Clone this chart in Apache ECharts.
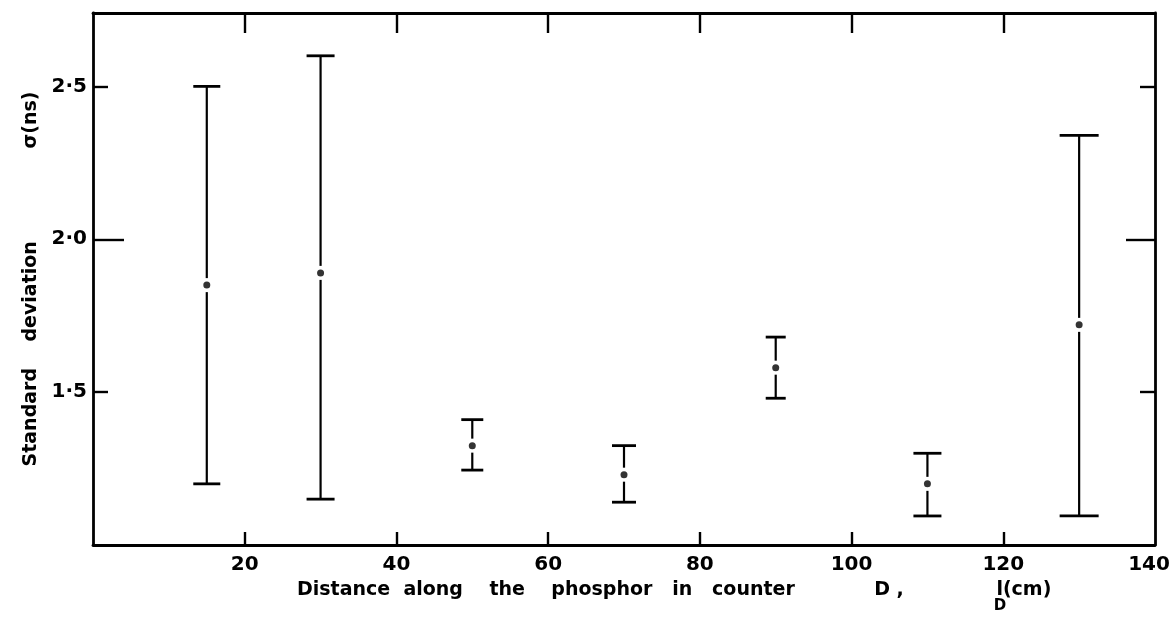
<!DOCTYPE html>
<html>
<head>
<meta charset="utf-8">
<script src="https://cdn.jsdelivr.net/npm/echarts@6/dist/echarts.min.js"></script>
<style>
  html, body { margin: 0; padding: 0; background: #fff; }
  #chart { width: 1169px; height: 620px; }
</style>
</head>
<body>
<div id="chart"></div>
<script>
// ---- data ----
const distance   = [15, 30, 50, 70, 90, 110, 130];               // l_D (cm)
const sigma      = [1.85, 1.89, 1.325, 1.23, 1.58, 1.20, 1.72];  // sigma (ns), centre dot
const sigmaLow   = [1.20, 1.15, 1.245, 1.14, 1.48, 1.095, 1.095];
const sigmaHigh  = [2.50, 2.60, 1.41, 1.325, 1.68, 1.30, 2.34];
const xTickValues  = [20, 40, 60, 80, 100, 120];
const xLabelValues = [20, 40, 60, 80, 100, 120, 140];
const yShortTicks  = [1.5, 2.5];
const yLongTicks   = [2.0];
const yLabelValues = [1.5, 2.0, 2.5];
const xTitleHead = 'Distance  along    the    phosphor   in   counter            D ,              ';
const xTitleTail = 'l(cm)';
const xTitleSub  = 'D';
const yTitle = 'Standard    deviation              σ(ns)';

// ---- styles ----
const capWidth = [27, 28, 22, 24, 20, 28, 39];
const FONT = 'DejaVu Sans';
const ink = '#000';

const errData = distance.map((d, i) => [d, sigmaLow[i], sigmaHigh[i], sigma[i]]);
const dotData = distance.map((d, i) => [d, sigma[i]]);

function renderErr(params, api) {
  const x = api.value(0), lo = api.value(1), hi = api.value(2), mid = api.value(3);
  const pHi = api.coord([x, hi]);
  const pLo = api.coord([x, lo]);
  const pMid = api.coord([x, mid]);
  const half = capWidth[params.dataIndex] / 2;
  const gap = 7;
  const ls = { stroke: ink, lineWidth: 2.2 };
  const children = [];
  if (pMid[1] - gap > pHi[1]) children.push({ type: 'line', shape: { x1: pHi[0], y1: pHi[1], x2: pMid[0], y2: pMid[1] - gap }, style: ls });
  if (pMid[1] + gap < pLo[1]) children.push({ type: 'line', shape: { x1: pMid[0], y1: pMid[1] + gap, x2: pLo[0], y2: pLo[1] }, style: ls });
  children.push({ type: 'line', shape: { x1: pHi[0] - half, y1: pHi[1], x2: pHi[0] + half, y2: pHi[1] }, style: { stroke: ink, lineWidth: 2.8 } });
  children.push({ type: 'line', shape: { x1: pLo[0] - half, y1: pLo[1], x2: pLo[0] + half, y2: pLo[1] }, style: { stroke: ink, lineWidth: 2.8 } });
  return { type: 'group', children };
}

const axisLineStyle = { color: ink, width: 2.8 };
const tickStyle = { color: ink, width: 2.4 };
const labelStyle = { color: ink, fontFamily: FONT, fontWeight: 'bold', fontSize: 20 };
const yFmt = v => Number(v).toFixed(1).replace('.', '·');
const xMax = xLabelValues[xLabelValues.length - 1];
const xFmt = v => (v === xMax ? '{edge|' + v + '}' : String(v));

const chart = echarts.init(document.getElementById('chart'), null, { renderer: 'canvas' });

// measure title text to place the subscript under the "l"
const mctx = document.createElement('canvas').getContext('2d');
const titleFont = 'bold 19px "' + FONT + '"';
mctx.font = titleFont;
const titleLeft = 297;
const headW = mctx.measureText(xTitleHead).width;
const lW = mctx.measureText('l').width;

chart.setOption({
  animation: false,
  backgroundColor: '#fff',
  grid: { left: 93, right: 14, top: 13, bottom: 75, containLabel: false, outerBoundsMode: 'none' },
  xAxis: [
    {
      type: 'value', position: 'bottom', min: 0, max: 140, interval: 20,
      axisLine: { lineStyle: axisLineStyle },
      axisTick: { inside: true, length: 13, lineStyle: tickStyle, customValues: xTickValues },
      axisLabel: Object.assign({
        margin: 10, customValues: xLabelValues, showMaxLabel: true, formatter: xFmt,
        rich: { edge: Object.assign({ padding: [0, 12, 0, 0] }, labelStyle) }
      }, labelStyle),
      splitLine: { show: false }
    },
    {
      type: 'value', position: 'top', min: 0, max: 140, interval: 20,
      axisLine: { lineStyle: axisLineStyle },
      axisTick: { inside: true, length: 20, lineStyle: tickStyle, customValues: xTickValues },
      axisLabel: { show: false },
      splitLine: { show: false }
    }
  ],
  yAxis: [
    {
      type: 'value', position: 'left', min: 1.0, max: 2.74,
      axisLine: { lineStyle: axisLineStyle },
      axisTick: { inside: true, length: 15, lineStyle: tickStyle, customValues: yShortTicks },
      axisLabel: Object.assign({ margin: 6, customValues: yLabelValues, formatter: yFmt }, labelStyle),
      splitLine: { show: false },
      name: yTitle, nameLocation: 'middle', nameGap: 44, nameRotate: 90,
      nameTextStyle: { color: ink, fontFamily: FONT, fontWeight: 'bold', fontSize: 19 }
    },
    {
      type: 'value', position: 'left', min: 1.0, max: 2.74,
      axisLine: { show: false },
      axisTick: { inside: true, length: 31, lineStyle: tickStyle, customValues: yLongTicks },
      axisLabel: { show: false },
      splitLine: { show: false }
    },
    {
      type: 'value', position: 'right', min: 1.0, max: 2.74,
      axisLine: { lineStyle: axisLineStyle },
      axisTick: { inside: true, length: 15, lineStyle: tickStyle, customValues: yShortTicks },
      axisLabel: { show: false },
      splitLine: { show: false }
    },
    {
      type: 'value', position: 'right', min: 1.0, max: 2.74,
      axisLine: { show: false },
      axisTick: { inside: true, length: 29, lineStyle: tickStyle, customValues: yLongTicks },
      axisLabel: { show: false },
      splitLine: { show: false }
    }
  ],
  graphic: [
    {
      type: 'text', left: titleLeft, top: 581,
      style: { text: xTitleHead + xTitleTail, font: titleFont, fill: ink }
    },
    {
      type: 'text', left: titleLeft + headW + lW / 2 - 6, top: 599,
      style: { text: xTitleSub, font: 'bold 15px "' + FONT + '"', fill: ink }
    }
  ],
  series: [
    {
      type: 'custom', xAxisIndex: 0, yAxisIndex: 0,
      renderItem: renderErr, data: errData, silent: true, z: 2
    },
    {
      type: 'scatter', xAxisIndex: 0, yAxisIndex: 0,
      symbol: 'circle', symbolSize: 7, itemStyle: { color: ink },
      data: dotData, silent: true, z: 3
    }
  ]
});
</script>
</body>
</html>
